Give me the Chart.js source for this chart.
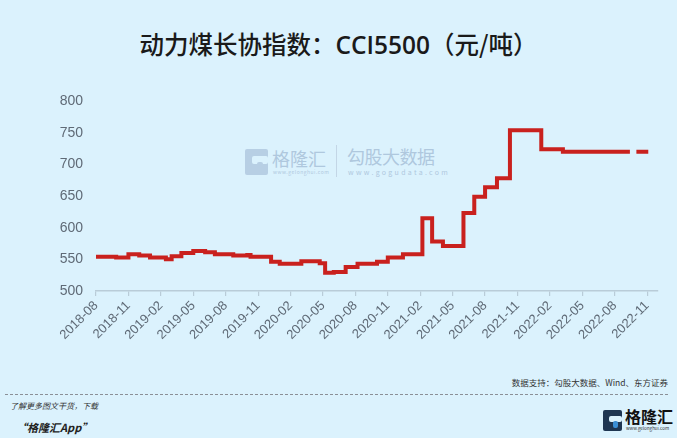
<!DOCTYPE html>
<html>
<head>
<meta charset="utf-8">
<script src="https://cdn.jsdelivr.net/npm/chart.js@4"></script>
<style>
  html, body { margin: 0; padding: 0; }
  body { width: 677px; height: 438px; background: #dbf2fd; position: relative; overflow: hidden;
         font-family: "Noto Sans CJK SC", "Noto Sans", sans-serif; }
  #wrap { position: absolute; left: 0; top: 0; width: 677px; height: 360px; }
  .abs { position: absolute; white-space: nowrap; }
  #title { left: 0; width: 677px; top: 26px; text-align: center; font-size: 24.5px; font-weight: 500; color: #1a1a1a; }
  #title .lat { font-family: "Open Sans", "Noto Sans", sans-serif; font-weight: 600; }
  .wm { color: #afc8de; }
  .gicon { position: absolute; border-radius: 2px; }
  #dash { left: 5px; top: 394px; width: 663px; border-top: 1px dashed #8a8f96; }
</style>
</head>
<body>
<div id="title" class="abs">动力煤长协指数：<span class="lat">CCI5500</span>（元/吨）</div>

<!-- watermark -->
<div class="gicon" style="left:245px;top:149px;width:23px;height:26px;background:#b7cfe4;"></div>
<div class="gicon" style="left:252px;top:156px;width:16px;height:8px;background:#dbf2fd;"></div>
<div class="gicon" style="left:257px;top:162px;width:6px;height:9px;background:#b7cfe4;"></div>
<div class="abs wm" style="left:272px;top:145px;font-size:18px;">格隆汇</div>
<div class="abs wm" style="left:273px;top:168px;font-size:5px;letter-spacing:0.5px;">www.gelonghui.com</div>
<div class="abs" style="left:336px;top:145px;width:1px;height:32px;background:#c3d6e6;"></div>
<div class="abs wm" style="left:347px;top:143px;font-size:18px;letter-spacing:-0.5px;">勾股大数据</div>
<div class="abs wm" style="left:348px;top:167px;font-size:7px;letter-spacing:2.3px;">www.gogudata.com</div>

<div id="wrap"><canvas id="chart"></canvas></div>

<!-- footer -->
<div class="abs" style="right:9px;top:376px;font-size:8.5px;color:#333;">数据支持：勾股大数据、Wind、东方证券</div>
<div id="dash" class="abs"></div>
<div class="abs" style="left:10px;top:400px;font-size:8px;color:#333;font-style:italic;">了解更多图文干货，下载</div>
<div class="abs" style="left:16px;top:419px;font-size:11px;color:#222;font-style:italic;font-weight:bold;">“格隆汇App”</div>
<div class="gicon" style="left:603px;top:410px;width:19px;height:21px;background:#1e3652;"></div>
<div class="gicon" style="left:609px;top:416px;width:13px;height:6px;background:#dbf2fd;"></div>
<div class="gicon" style="left:613px;top:421px;width:5px;height:7px;background:#3a8fd6;"></div>
<div class="abs" style="left:625px;top:404px;font-size:16px;font-weight:bold;color:#111;">格隆汇</div>
<div class="abs" style="left:626px;top:425px;font-size:4.5px;color:#333;">www.gelonghui.com</div>

<script>
// x-axis labels (every 3 months from 2018-08)
const tickLabels = ['2018-08','2018-11','2019-02','2019-05','2019-08','2019-11','2020-02','2020-05',
  '2020-08','2020-11','2021-02','2021-05','2021-08','2021-11','2022-02','2022-05','2022-08','2022-11'];

// dates where the index changes level, and the new level (元/吨)
const dates = ['2018-08-01','2018-09-27','2018-11-01','2018-12-01','2019-01-01','2019-02-15','2019-03-01',
  '2019-03-28','2019-05-01','2019-06-04','2019-07-01','2019-08-22','2019-10-01','2019-10-10','2019-12-07',
  '2020-01-01','2020-03-01','2020-04-22','2020-05-07','2020-06-01','2020-07-04','2020-08-07','2020-10-01',
  '2020-11-01','2020-12-13','2021-02-07','2021-03-04','2021-04-04','2021-06-01','2021-07-01','2021-08-01',
  '2021-09-04','2021-10-10','2022-01-07','2022-03-07','2022-09-13','2022-09-22','2022-10-01','2022-11-04'];
const values = [554,553,558,556,553,550,555,
  560,563,561,558,556,557,554,546,
  543,547,544,529,530,538,543,546,
  553,558,615,578,571,623,649,664,
  678,754,724,720,720,null,720,720];

const startYear = 2018, startMonth = 8;
function monthIndex(d) {
  const [y, m, day] = d.split('-').map(Number);
  return (y - startYear) * 12 + (m - startMonth) + (day - 1) / 30;
}
const points = dates.map((d, i) => ({ x: monthIndex(d), y: values[i] }));

const axisColor = '#b9ccd8';
const labelColor = '#5f6a76';

new Chart(document.getElementById('chart'), {
  type: 'line',
  data: {
    datasets: [{
      data: points,
      borderColor: '#c9211e',
      borderWidth: 4,
      stepped: 'before',
      pointRadius: 0,
      spanGaps: false,
      borderCapStyle: 'butt'
    }]
  },
  options: {
    responsive: true,
    maintainAspectRatio: false,
    animation: false,
    events: [],
    layout: { padding: { top: 101, left: 0, right: 19, bottom: 0 } },
    plugins: { legend: { display: false }, tooltip: { enabled: false } },
    scales: {
      x: {
        type: 'linear',
        min: 0,
        max: 52,
        afterFit: s => { s.height = 69; },
        border: { color: axisColor, width: 1.5 },
        grid: { drawOnChartArea: false, color: axisColor, tickLength: 5, lineWidth: 1.2 },
        ticks: {
          stepSize: 3,
          includeBounds: false,
          autoSkip: false,
          minRotation: 45,
          maxRotation: 45,
          padding: 2,
          color: labelColor,
          font: { family: 'Liberation Sans, Arial, sans-serif', size: 13 },
          callback: v => tickLabels[Math.round(v / 3)] || ''
        }
      },
      y: {
        min: 500,
        max: 800,
        afterFit: s => { s.width = 96; },
        border: { display: false },
        grid: { display: false, drawTicks: false },
        ticks: {
          stepSize: 50,
          padding: 13,
          color: labelColor,
          font: { family: 'Liberation Sans, Arial, sans-serif', size: 14 }
        }
      }
    }
  }
});
</script>
</body>
</html>
